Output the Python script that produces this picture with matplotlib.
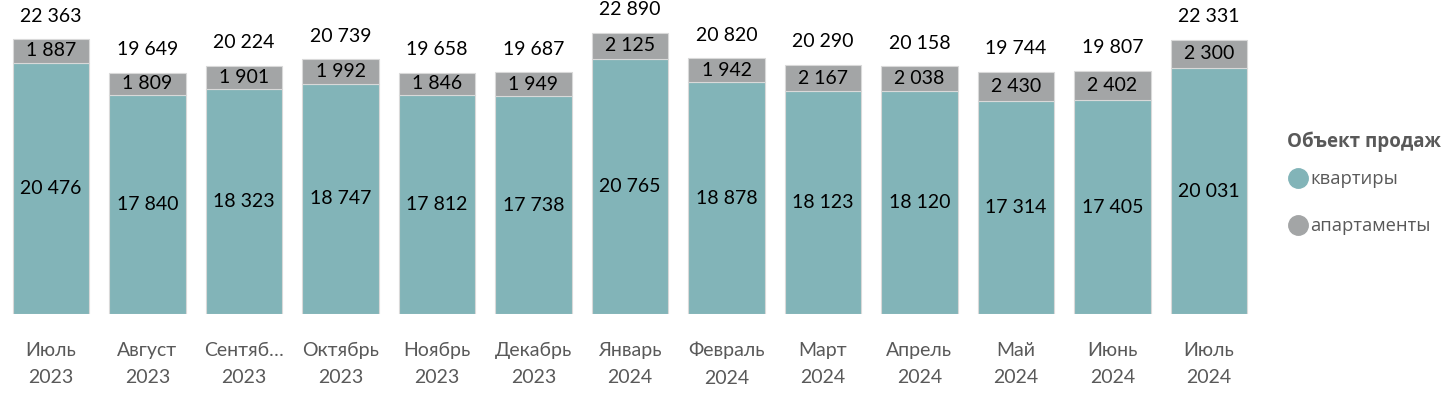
import matplotlib
matplotlib.use("Agg")
import matplotlib.pyplot as plt
from matplotlib.lines import Line2D

months = ["Июль\n2023", "Август\n2023", "Сентяб…\n2023", "Октябрь\n2023", "Ноябрь\n2023",
          "Декабрь\n2023", "Январь\n2024", "Февраль\n2024", "Март\n2024", "Апрель\n2024",
          "Май\n2024", "Июнь\n2024", "Июль\n2024"]
flats = [20476, 17840, 18323, 18747, 17812, 17738, 20765, 18878, 18123, 18120, 17314, 17405, 20031]
apartments = [1887, 1809, 1901, 1992, 1846, 1949, 2125, 1942, 2167, 2038, 2430, 2402, 2300]
series_names = ["квартиры", "апартаменты"]
legend_title = "Объект продаж"

TEAL = "#82B4B8"
GRAY = "#A3A5A6"
TXT = "#595959"
FONT = ["Lato", "DejaVu Sans"]
LFONT = ["Open Sans", "DejaVu Sans"]


def fmt(v):
    return f"{v:,}".replace(",", " ")


fig = plt.figure(figsize=(14.46, 3.94), dpi=100)
ax = fig.add_axes([2.75 / 1446, 80 / 394, 1254.5 / 1446, 314 / 394])

x = list(range(len(months)))
totals = [a + b for a, b in zip(flats, apartments)]
w = 0.79
ax.bar(x, flats, width=w, color=TEAL, edgecolor="#D9D9D9", linewidth=0.8)
ax.bar(x, apartments, width=w, bottom=flats, color=GRAY, edgecolor="#D9D9D9", linewidth=0.8)

for i in x:
    ax.text(i, flats[i] / 2, fmt(flats[i]), ha="center", va="center",
            fontsize=14, family=FONT, color="black")
    ax.text(i, flats[i] + apartments[i] / 2, fmt(apartments[i]), ha="center", va="center",
            fontsize=14, family=FONT, color="black")
    ax.annotate(fmt(totals[i]), (i, totals[i]), xytext=(0, 16.5), textcoords="offset points",
                ha="center", va="center", fontsize=14, family=FONT, color="black")

ax.set_xlim(-0.5, len(months) - 0.5)
ax.set_ylim(0, 25570)
ax.set_xticks(x)
ax.set_xticklabels(months, fontsize=14, family=FONT, color=TXT, linespacing=1.75)
ax.tick_params(axis="x", length=0, pad=20)
ax.set_yticks([])
for s in ax.spines.values():
    s.set_visible(False)

fig.text(1287 / 1446, 1 - 142 / 394, legend_title, ha="left", va="center",
         family=LFONT, fontsize=13.5, fontweight="bold", color=TXT)

handles = [Line2D([], [], marker="o", linestyle="", markersize=14, color=TEAL),
           Line2D([], [], marker="o", linestyle="", markersize=14, color=GRAY)]
leg = fig.legend(handles, series_names, loc="upper left", bbox_to_anchor=(1277 / 1446, 1 - 161 / 394),
                 frameon=False,
                 prop={"family": LFONT, "size": 13.2},
                 handletextpad=0.0, labelspacing=1.6, borderpad=0, handlelength=1.3)
for t in leg.get_texts():
    t.set_color(TXT)

fig.savefig("out.png", dpi=100)
